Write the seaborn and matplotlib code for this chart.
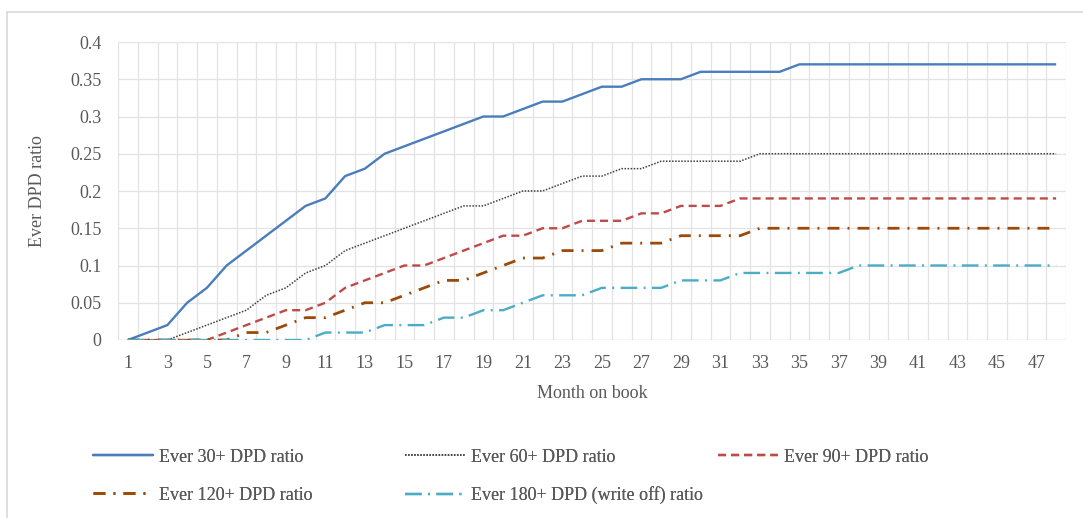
import matplotlib
matplotlib.use("Agg")
import matplotlib.pyplot as plt
from matplotlib.lines import Line2D
import seaborn as sns
import numpy as np

months = list(range(1, 49))

ever30 = [0, 0.01, 0.02, 0.05, 0.07, 0.10, 0.12, 0.14, 0.16, 0.18, 0.19, 0.22,
          0.23, 0.25, 0.26, 0.27, 0.28, 0.29, 0.30, 0.30, 0.31, 0.32, 0.32, 0.33,
          0.34, 0.34, 0.35, 0.35, 0.35, 0.36, 0.36, 0.36, 0.36, 0.36, 0.37, 0.37,
          0.37, 0.37, 0.37, 0.37, 0.37, 0.37, 0.37, 0.37, 0.37, 0.37, 0.37, 0.37]
ever60 = [0, 0, 0, 0.01, 0.02, 0.03, 0.04, 0.06, 0.07, 0.09, 0.10, 0.12,
          0.13, 0.14, 0.15, 0.16, 0.17, 0.18, 0.18, 0.19, 0.20, 0.20, 0.21, 0.22,
          0.22, 0.23, 0.23, 0.24, 0.24, 0.24, 0.24, 0.24, 0.25, 0.25, 0.25, 0.25,
          0.25, 0.25, 0.25, 0.25, 0.25, 0.25, 0.25, 0.25, 0.25, 0.25, 0.25, 0.25]
ever90 = [0, 0, 0, 0, 0, 0.01, 0.02, 0.03, 0.04, 0.04, 0.05, 0.07,
          0.08, 0.09, 0.10, 0.10, 0.11, 0.12, 0.13, 0.14, 0.14, 0.15, 0.15, 0.16,
          0.16, 0.16, 0.17, 0.17, 0.18, 0.18, 0.18, 0.19, 0.19, 0.19, 0.19, 0.19,
          0.19, 0.19, 0.19, 0.19, 0.19, 0.19, 0.19, 0.19, 0.19, 0.19, 0.19, 0.19]
ever120 = [0, 0, 0, 0, 0, 0, 0.01, 0.01, 0.02, 0.03, 0.03, 0.04,
           0.05, 0.05, 0.06, 0.07, 0.08, 0.08, 0.09, 0.10, 0.11, 0.11, 0.12, 0.12,
           0.12, 0.13, 0.13, 0.13, 0.14, 0.14, 0.14, 0.14, 0.15, 0.15, 0.15, 0.15,
           0.15, 0.15, 0.15, 0.15, 0.15, 0.15, 0.15, 0.15, 0.15, 0.15, 0.15, 0.15]
ever180 = [0, 0, 0, 0, 0, 0, 0, 0, 0, 0, 0.01, 0.01,
           0.01, 0.02, 0.02, 0.02, 0.03, 0.03, 0.04, 0.04, 0.05, 0.06, 0.06, 0.06,
           0.07, 0.07, 0.07, 0.07, 0.08, 0.08, 0.08, 0.09, 0.09, 0.09, 0.09, 0.09,
           0.09, 0.10, 0.10, 0.10, 0.10, 0.10, 0.10, 0.10, 0.10, 0.10, 0.10, 0.10]

series_names = ["Ever 30+ DPD ratio", "Ever 60+ DPD ratio", "Ever 90+ DPD ratio",
                "Ever 120+ DPD ratio", "Ever 180+ DPD (write off) ratio"]
series_values = [ever30, ever60, ever90, ever120, ever180]

y_ticks = [0, 0.05, 0.1, 0.15, 0.2, 0.25, 0.3, 0.35, 0.4]
x_tick_labels = [str(m) for m in months[::2]]

sns.set_theme(style="white")
plt.rcParams["font.family"] = ["Liberation Serif", "DejaVu Serif"]
plt.rcParams["lines.scale_dashes"] = False

TEXT = "#595959"
GRID = "#E3E3E3"
W, H = 1083, 518

# colour, width (pt), dash pattern (pt) for each series
styles = [
    ("#4A7EBB", 1.7, None),
    ("#404040", 1.1, (0, (1.1, 1.1))),
    ("#BE4B48", 1.7, (0, (5.8, 3.6))),
    ("#9C4A0A", 2.0, (0, (8.6, 5.8, 1.4, 5.8))),
    ("#4BACC6", 1.7, (0, (12.0, 4.6, 1.4, 4.6))),
]

fig = plt.figure(figsize=(W / 100, H / 100), dpi=100)
ax = fig.add_axes([118 / W, 1 - 340 / H, (1066 - 118) / W, (340 - 42) / H])

handles = []
for name, vals, (col, lw, dash) in zip(series_names, series_values, styles):
    sns.lineplot(x=months, y=vals, ax=ax, color=col, linewidth=lw, label=name,
                 legend=False)
    line = ax.lines[-1]
    if dash is not None:
        line.set_linestyle(dash)
    line.set_solid_capstyle("butt")
    line.set_dash_capstyle("butt")
    h = Line2D([], [], color=col, linewidth=lw,
               linestyle=dash if dash is not None else "-")
    h.set_dash_capstyle("butt")
    handles.append(h)

ax.set_xlim(0.5, 48.5)
ax.set_ylim(0, 0.4)

# category-boundary grid
for b in np.arange(0.5, 49.0, 1.0):
    ax.axvline(b, color=GRID, linewidth=0.9, zorder=0)
for t in y_ticks[1:]:
    ax.axhline(t, color=GRID, linewidth=0.9, zorder=0)
ax.axhline(0, color="#CFCFCF", linewidth=1.0, zorder=1)

ax.set_xticks(months[::2])
ax.set_xticklabels(x_tick_labels)
ax.set_yticks(y_ticks)
ax.set_yticklabels([f"{v:g}" for v in y_ticks])
ax.tick_params(axis="both", length=0, labelsize=13, colors=TEXT)
ax.tick_params(axis="x", pad=11)
ax.tick_params(axis="y", pad=12)
for s in ax.spines.values():
    s.set_visible(False)

ax.set_xlabel("Month on book", fontsize=13, color=TEXT, labelpad=9)
ax.set_ylabel("Ever DPD ratio", fontsize=13, color=TEXT, labelpad=17)

# legend entries laid out on an even grid below the plot
legend_pos = [(93, 457), (405, 457), (718, 457), (93, 495), (405, 495)]
for h, name, (px, py) in zip(handles, series_names, legend_pos):
    leg = fig.legend(handles=[h], labels=[name], loc="center left",
                     bbox_to_anchor=(px / W, 1 - py / H), frameon=False,
                     fontsize=13, handlelength=3.3, handletextpad=0.35,
                     borderpad=0, borderaxespad=0, labelcolor=TEXT)
    fig.add_artist(leg)

# chart frame (left and top edges)
fig.add_artist(Line2D([7 / W, 7 / W], [0, 1 - 12 / H], color="#D9D9D9",
                      linewidth=1.2, transform=fig.transFigure))
fig.add_artist(Line2D([7 / W, 1], [1 - 12 / H, 1 - 12 / H], color="#D9D9D9",
                      linewidth=1.2, transform=fig.transFigure))

fig.savefig("out.png", dpi=100)
